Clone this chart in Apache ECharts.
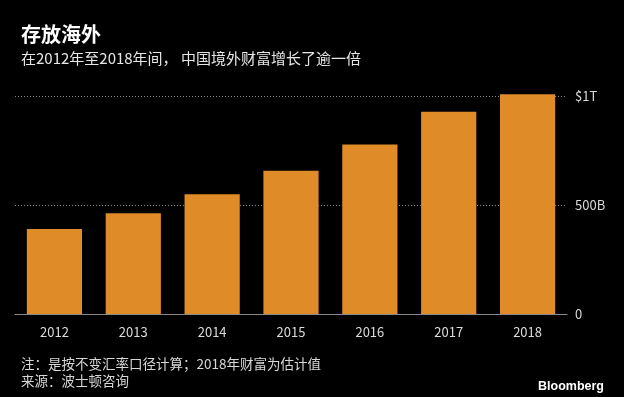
<!DOCTYPE html>
<html>
<head>
<meta charset="utf-8">
<script src="https://cdn.jsdelivr.net/npm/echarts@6/dist/echarts.min.js"></script>
<style>
    html, body { margin: 0; padding: 0; background: #000; }
</style>
</head>
<body>
<div id="main" style="width: 624px;height:397px;"></div>
<script type="text/javascript">
    // 年份和境外财富（十亿美元）
    var years = ['2012', '2013', '2014', '2015', '2016', '2017', '2018'];
    var wealth = [390, 462, 549, 657, 778, 928, 1008];
    var yTicks = {0: '0', 500: '500B', 1000: '$1T'};

    var cjk = '"Noto Sans CJK SC", "Noto Sans", sans-serif';

    var myChart = echarts.init(document.getElementById('main'));

    var option = {
        backgroundColor: '#000',
        animation: false,
        title: [
            {
                text: '存放海外',
                left: 16, top: 19,
                textStyle: { color: '#fff', fontSize: 20, fontWeight: 'bold', fontFamily: cjk }
            },
            {
                text: '在2012年至2018年间， 中国境外财富增长了逾一倍',
                left: 16, top: 46,
                textStyle: { color: '#e6e6e6', fontSize: 15, fontWeight: 'normal', fontFamily: cjk }
            },
            {
                text: '注：是按不变汇率口径计算；2018年财富为估计值',
                left: 16, top: 352,
                textStyle: { color: '#d8d8d8', fontSize: 13.5, fontWeight: 'normal', fontFamily: cjk }
            },
            {
                text: '来源：波士顿咨询',
                left: 16, top: 369,
                textStyle: { color: '#d8d8d8', fontSize: 13.5, fontWeight: 'normal', fontFamily: cjk }
            },
            {
                text: 'Bloomberg',
                right: 15, top: 375,
                textStyle: { color: '#fff', fontSize: 12.5, fontWeight: 'bold', fontFamily: '"Liberation Sans", Arial, sans-serif' }
            }
        ],
        grid: { left: 15, right: 57, top: 96, bottom: 83 },
        xAxis: {
            type: 'category',
            data: years,
            axisLine: { lineStyle: { color: '#8a8a8a', width: 1 } },
            axisTick: { alignWithLabel: true, length: 4, lineStyle: { color: '#8a8a8a' } },
            axisLabel: { color: '#dcdcdc', fontSize: 13, margin: 12, fontFamily: cjk }
        },
        yAxis: {
            type: 'value',
            position: 'right',
            min: 0, max: 1000, interval: 500,
            axisLine: { show: false },
            axisTick: { show: false },
            axisLabel: {
                color: '#d8d8d8', fontSize: 13, margin: 8, fontFamily: cjk,
                formatter: function (v) { return yTicks[v] || ''; }
            },
            splitLine: { lineStyle: { color: '#8a8a8a', type: [1, 2], width: 1 } }
        },
        series: [{
            type: 'bar',
            data: wealth,
            barWidth: '70%',
            clip: false,
            itemStyle: { color: '#df8b27' }
        }]
    };

    myChart.setOption(option);
</script>
</body>
</html>
